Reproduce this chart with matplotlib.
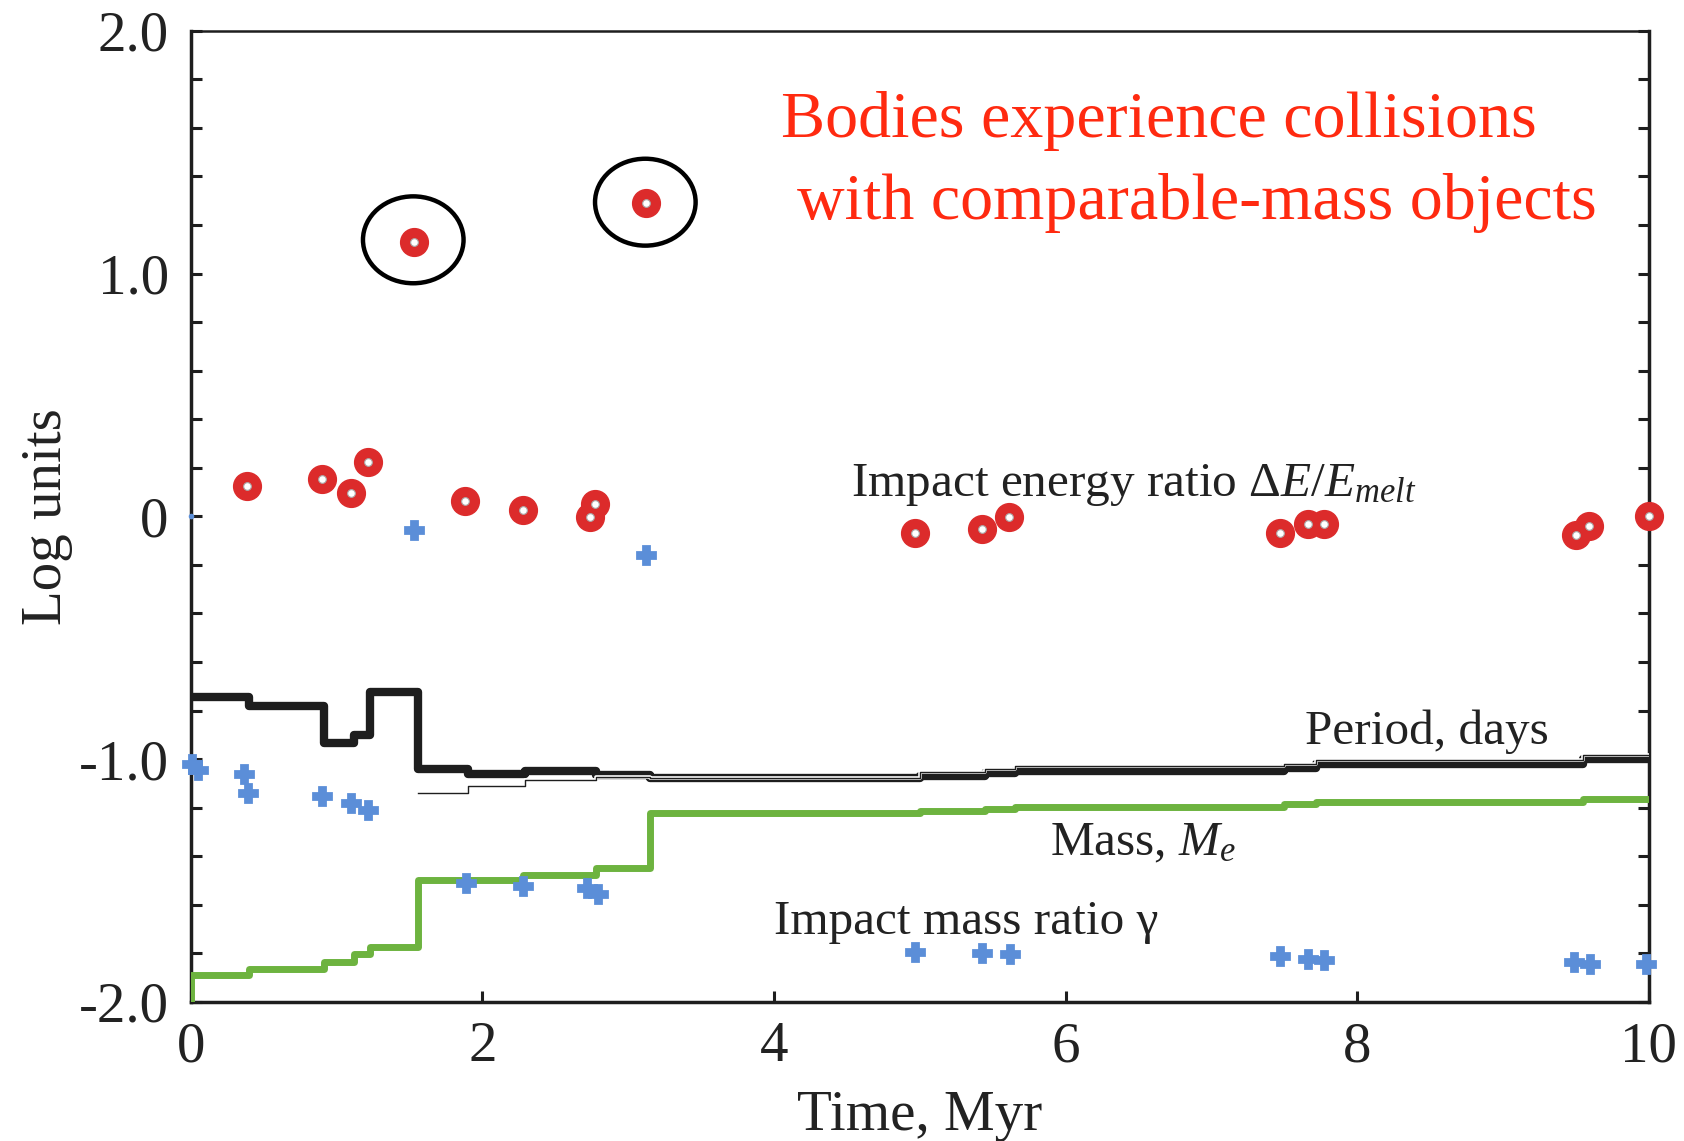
import matplotlib
matplotlib.use("Agg")
import matplotlib.pyplot as plt
import matplotlib.patheffects as pe
from matplotlib.patches import Ellipse

# ---------------- data ----------------
energy_t = [0.385, 0.90, 1.10, 1.215, 1.53, 1.88, 2.28, 2.74, 2.77, 3.12,
            4.97, 5.43, 5.61, 7.47, 7.66, 7.77, 9.50, 9.59, 10.0]
energy_v = [0.125, 0.154, 0.096, 0.222, 1.13, 0.062, 0.025, -0.004, 0.05, 1.29,
            -0.07, -0.054, -0.003, -0.069, -0.03, -0.03, -0.078, -0.041, 0.0]

gamma_t = [0.0, 1.53, 3.125,
           0.01, 0.05, 0.365, 0.39, 0.90, 1.095, 1.215,
           1.885, 2.275, 2.72, 2.79,
           4.97, 5.43, 5.62, 7.47, 7.665, 7.77, 9.49, 9.60, 9.98]
gamma_v = [0.0, -0.058, -0.16,
           -1.02, -1.045, -1.063, -1.14, -1.152, -1.181, -1.211,
           -1.509, -1.523, -1.53, -1.557,
           -1.795, -1.80, -1.805, -1.813, -1.823, -1.829, -1.836, -1.843, -1.846]

period_t = [0.0, 0.40, 0.91, 1.12, 1.23, 1.56, 1.90, 2.29, 2.78, 3.15,
            5.00, 5.45, 5.65, 7.50, 7.72, 9.55, 10.0]
period_v = [-0.745, -0.783, -0.934, -0.902, -0.724, -1.04, -1.063, -1.049, -1.067, -1.078,
            -1.068, -1.058, -1.05, -1.035, -1.02, -1.0, -1.0]

period2_t = [1.56, 1.90, 2.29, 2.78, 3.15, 5.00, 5.45, 5.65, 7.50, 7.72, 9.55, 10.0]
period2_v = [-1.14, -1.113, -1.085, -1.072, -1.078, -1.055, -1.04, -1.03, -1.02, -1.005, -0.985, -0.985]

mass_t = [0.0, 0.0, 0.40, 0.91, 1.12, 1.23, 1.56, 2.28, 2.78, 3.15, 5.00, 5.45, 5.65,
          7.50, 7.72, 9.55, 10.0]
mass_v = [-2.0, -1.891, -1.863, -1.836, -1.805, -1.775, -1.50, -1.479, -1.45, -1.224,
          -1.215, -1.207, -1.198, -1.187, -1.177, -1.166, -1.166]

circled = [(1.525, 1.139), (3.117, 1.294)]

xticks = [0, 2, 4, 6, 8, 10]
xtick_labels = ["0", "2", "4", "6", "8", "10"]
yticks = [-2, -1, 0, 1, 2]
ytick_labels = ["-2.0", "-1.0", "0", "1.0", "2.0"]

# ---------------- style ----------------
plt.rcParams['font.family'] = ['Liberation Serif', 'DejaVu Serif']
plt.rcParams['mathtext.fontset'] = 'custom'
plt.rcParams['mathtext.rm'] = 'Liberation Serif'
plt.rcParams['mathtext.it'] = 'Liberation Serif:italic'

fig = plt.figure(figsize=(16.84, 11.41), dpi=100)
ax = fig.add_axes([0.1134, 0.122, 0.8656, 0.851])

TXT = '#222222'
RED = '#dc2b2b'
BLUE = '#5b8ed8'
GREEN = '#6db33f'

# period (thick)
ax.plot(period_t, period_v, drawstyle='steps-post', color='#1e1e1e', lw=6.0,
        solid_joinstyle='round', solid_capstyle='butt', zorder=3)
# second thin period line with white casing
ax.plot(period2_t, period2_v, drawstyle='steps-post', color='#1e1e1e', lw=1.0, zorder=4,
        path_effects=[pe.Stroke(linewidth=2.6, foreground='white'), pe.Normal()])
# mass
ax.plot(mass_t, mass_v, drawstyle='steps-post', color=GREEN, lw=5.0,
        solid_joinstyle='round', zorder=3)

# impact mass ratio
ax.plot(gamma_t[:1], gamma_v[:1], 'o', color=BLUE, ms=3, zorder=5, clip_on=False)
ax.plot(gamma_t[1:], gamma_v[1:], 'P', color=BLUE, ms=13, mec=BLUE, mew=2.0, zorder=5,
        clip_on=False)

# impact energy ratio
ax.plot(energy_t, energy_v, 'o', color=RED, ms=20, mec=RED, zorder=6, clip_on=False)
ax.plot(energy_t, energy_v, 'o', color='white', ms=5.5, mec='#aaaaaa', mew=0.8, zorder=7,
        clip_on=False)

for (cx, cy) in circled:
    ax.add_patch(Ellipse((cx, cy), 0.69, 0.358, fill=False, ec='black', lw=3.2, zorder=8))

ax.set_xlim(0, 10)
ax.set_ylim(-2, 2)
ax.set_xticks(xticks)
ax.set_xticklabels(xtick_labels)
ax.set_yticks(yticks)
ax.set_yticklabels(ytick_labels)
ax.set_yticks([v / 5 for v in range(-10, 11)], minor=True)

ax.tick_params(axis='both', which='both', direction='in', colors='#1e1e1e',
               labelcolor=TXT, labelsize=41, width=2.2, length=8)
ax.tick_params(axis='y', which='both', right=True, left=True)
ax.tick_params(axis='x', which='both', top=False, pad=14)
ax.tick_params(axis='y', pad=16)

for s in ax.spines.values():
    s.set_linewidth(2.5)
    s.set_color('#1e1e1e')
ax.spines['top'].set_linewidth(1.8)

ax.set_xlabel("Time, Myr", fontsize=41, color=TXT, labelpad=12)
ax.set_ylabel("Log units", fontsize=41, color=TXT, labelpad=4)

# annotations
ax.text(4.53, 0.128, r"Impact energy ratio $\Delta E/E_{melt}$", fontsize=35.5,
        color=TXT, va='center', ha='left')
ax.text(7.64, -0.886, "Period, days", fontsize=35.5, color=TXT, va='center', ha='left')
ax.text(5.89, -1.347, r"Mass, $M_e$", fontsize=35.5, color=TXT, va='center', ha='left')
ax.text(4.0, -1.67, "Impact mass ratio γ", fontsize=35.5, color=TXT, va='center', ha='left')

ax.text(4.05, 1.63, "Bodies experience collisions", fontsize=47.5, color='#ff2a10',
        va='center', ha='left')
ax.text(4.16, 1.29, "with comparable-mass objects", fontsize=47.5, color='#ff2a10',
        va='center', ha='left')

fig.savefig("out.png", dpi=100)
